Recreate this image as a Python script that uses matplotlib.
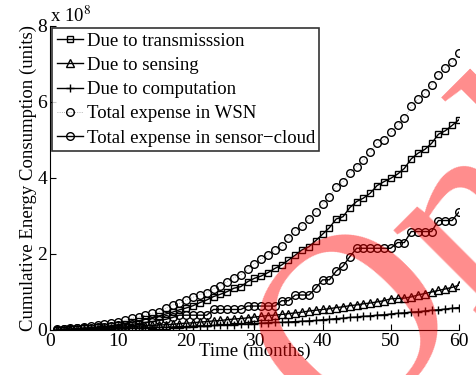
import matplotlib

matplotlib.use("Agg")
import matplotlib.pyplot as plt
import numpy as np

plt.rcParams["font.family"] = ["Liberation Serif", "DejaVu Serif"]
plt.rcParams["mathtext.fontset"] = "stix"

# months 1..60, energy in units of 1e8
months = np.arange(1, 61)

transmission = [
    0.01, 0.01, 0.02, 0.03, 0.04, 0.05, 0.07, 0.09, 0.11, 0.14,
    0.17, 0.20, 0.24, 0.28, 0.32, 0.37, 0.42, 0.47, 0.53, 0.58,
    0.64, 0.72, 0.79, 0.88, 0.94, 1.01, 1.10, 1.14, 1.27, 1.36,
    1.42, 1.51, 1.62, 1.71, 1.84, 1.97, 2.11, 2.19, 2.35, 2.52,
    2.69, 2.92, 2.98, 3.22, 3.38, 3.47, 3.60, 3.80, 3.90, 3.99,
    4.10, 4.25, 4.50, 4.65, 4.75, 4.91, 5.15, 5.24, 5.38, 5.53,
]
sensing = [
    0.01, 0.01, 0.02, 0.02, 0.03, 0.04, 0.04, 0.05, 0.06, 0.07,
    0.08, 0.09, 0.10, 0.11, 0.12, 0.13, 0.14, 0.15, 0.17, 0.18,
    0.19, 0.21, 0.22, 0.24, 0.25, 0.27, 0.29, 0.30, 0.32, 0.34,
    0.36, 0.38, 0.39, 0.41, 0.43, 0.45, 0.47, 0.50, 0.52, 0.54,
    0.56, 0.59, 0.61, 0.64, 0.66, 0.69, 0.71, 0.74, 0.77, 0.82,
    0.83, 0.84, 0.87, 0.92, 0.96, 1.00, 1.04, 1.08, 1.12, 1.18,
]
computation = [
    0.00, 0.01, 0.01, 0.01, 0.02, 0.02, 0.02, 0.03, 0.03, 0.04,
    0.04, 0.05, 0.05, 0.06, 0.06, 0.07, 0.07, 0.08, 0.09, 0.09,
    0.10, 0.11, 0.11, 0.12, 0.13, 0.13, 0.14, 0.15, 0.16, 0.17,
    0.18, 0.19, 0.20, 0.20, 0.21, 0.22, 0.23, 0.24, 0.25, 0.27,
    0.28, 0.30, 0.31, 0.33, 0.34, 0.36, 0.37, 0.39, 0.40, 0.42,
    0.44, 0.45, 0.47, 0.48, 0.50, 0.52, 0.53, 0.55, 0.57, 0.59,
]
total_wsn = [
    0.02, 0.03, 0.04, 0.06, 0.08, 0.10, 0.12, 0.15, 0.18, 0.22,
    0.26, 0.31, 0.35, 0.39, 0.44, 0.48, 0.57, 0.66, 0.70, 0.78,
    0.86, 0.93, 0.98, 1.08, 1.16, 1.27, 1.38, 1.45, 1.60, 1.74,
    1.87, 1.97, 2.11, 2.20, 2.42, 2.61, 2.74, 2.93, 3.10, 3.31,
    3.51, 3.77, 3.90, 4.14, 4.30, 4.47, 4.68, 4.93, 5.00, 5.20,
    5.38, 5.57, 5.88, 6.07, 6.23, 6.45, 6.71, 6.89, 7.04, 7.28,
]
total_cloud = [
    0.01, 0.02, 0.03, 0.04, 0.05, 0.06, 0.07, 0.08, 0.10, 0.12,
    0.13, 0.15, 0.17, 0.20, 0.22, 0.25, 0.28, 0.33, 0.39, 0.39,
    0.39, 0.39, 0.39, 0.54, 0.54, 0.54, 0.54, 0.54, 0.63, 0.63,
    0.63, 0.63, 0.63, 0.77, 0.77, 0.92, 0.92, 0.92, 1.10, 1.32,
    1.32, 1.55, 1.68, 1.93, 2.15, 2.15, 2.15, 2.15, 2.15, 2.15,
    2.30, 2.30, 2.59, 2.59, 2.59, 2.59, 2.88, 2.88, 2.88, 3.10,
]

fig = plt.figure(figsize=(4.76, 3.75), dpi=100)
ax = fig.add_axes([0.105, 0.12, 0.859, 0.811])

mk = dict(markerfacecolor="none", markeredgecolor="black", markeredgewidth=1.0)
ax.plot(months, transmission, "-s", color="black", lw=1.0, ms=4.5,
        label="Due to transmisssion", **mk)
ax.plot(months, sensing, "-^", color="black", lw=1.0, ms=6,
        label="Due to sensing", **mk)
ax.plot(months, computation, "-+", color="black", lw=1.0, ms=6,
        label="Due to computation", markeredgewidth=1.0)
ax.plot(months, total_wsn, ":o", color="#999999", lw=0.6, ms=5.5,
        label="Total expense in WSN", **mk)
ax.plot(months, total_cloud, "-o", color="black", lw=1.0, ms=5.5,
        label="Total expense in sensor\u2212cloud", **mk)

ax.set_xlim(0, 60)
ax.set_ylim(0, 8)
ax.set_xticks(range(0, 61, 10))
ax.set_yticks(range(0, 9, 2))
ax.tick_params(direction="in", length=4, labelsize=14, pad=2)
for s in ("top", "right"):
    ax.spines[s].set_visible(False)
ax.set_xlabel("Time (months)", fontsize=13.5, labelpad=-5)
ax.set_ylabel("Cumulative Energy Consumption (units)", fontsize=13.5, labelpad=0)
ax.text(0.0, 1.0, "x 10$^{8}$", transform=ax.transAxes, fontsize=13.5,
        ha="left", va="bottom")

leg = ax.legend(loc="upper left", bbox_to_anchor=(0.0, 1.0), fontsize=13.5,
                frameon=True, fancybox=False, edgecolor="black",
                handlelength=1.4, handletextpad=0.2, borderpad=0.25,
                labelspacing=0.38, borderaxespad=0.1)
leg.get_frame().set_linewidth(1.2)

# diagonal stamp across the plot
fig.text(0.713, -0.175, "Online", fontsize=185, color="red", alpha=0.45,
         rotation=45, rotation_mode="anchor", ha="left", va="baseline",
         family="Liberation Serif")

fig.savefig("out.png", dpi=100)
plt.close(fig)
